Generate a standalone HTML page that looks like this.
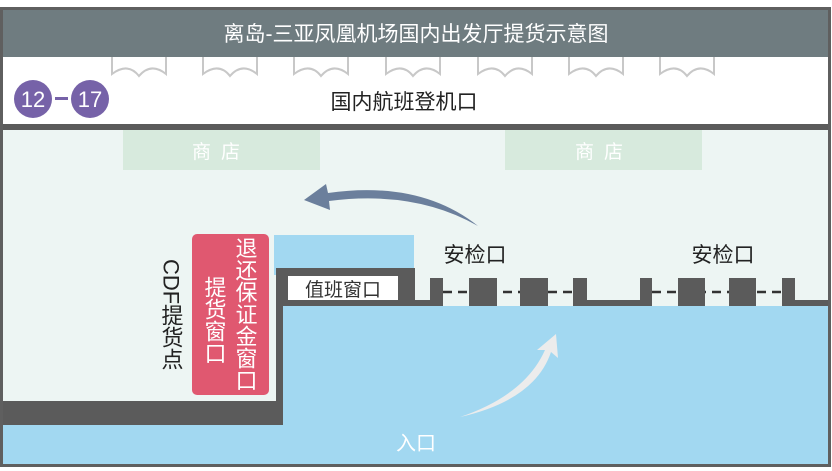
<!DOCTYPE html>
<html><head><meta charset="utf-8"><style>
html,body{margin:0;padding:0;background:#fff;}
svg{display:block;}
text{font-family:"Liberation Sans","Noto Sans CJK SC",sans-serif;}
</style></head><body>
<svg width="832" height="471" viewBox="0 0 832 471" xmlns="http://www.w3.org/2000/svg">
<rect x="0" y="0" width="832" height="471" fill="#fff"/>
<rect x="1.5" y="8.5" width="828" height="457" fill="#edf5f3" stroke="#5f5f5f" stroke-width="3"/>
<rect x="3" y="10" width="825" height="47" fill="#6f7c80"/>
<text x="416" y="41" font-size="21" fill="#fff" text-anchor="middle">离岛-三亚凤凰机场国内出发厅提货示意图</text>
<rect x="3" y="57" width="825" height="67" fill="#fff"/>
<g fill="none" stroke="#c8c8c8" stroke-width="2">
<path d="M112 57 L112 74 Q128 62 139 76 Q151 62 166 74 L166 57"/>
<path d="M203 57 L203 74 Q219 62 230 76 Q242 62 257 74 L257 57"/>
<path d="M294 57 L294 74 Q310 62 321 76 Q333 62 348 74 L348 57"/>
<path d="M386 57 L386 74 Q402 62 413 76 Q425 62 440 74 L440 57"/>
<path d="M478 57 L478 74 Q494 62 505 76 Q517 62 532 74 L532 57"/>
<path d="M569 57 L569 74 Q585 62 596 76 Q608 62 623 74 L623 57"/>
<path d="M660 57 L660 74 Q676 62 687 76 Q699 62 714 74 L714 57"/>
</g>
<circle cx="33" cy="99" r="19" fill="#7662a8"/>
<circle cx="90" cy="99" r="19" fill="#7662a8"/>
<text x="33" y="107" font-size="22" fill="#fff" text-anchor="middle">12</text>
<text x="90" y="107" font-size="22" fill="#fff" text-anchor="middle">17</text>
<rect x="55" y="97" width="13" height="3" fill="#7662a8"/>
<text x="404" y="109" font-size="21" fill="#222" text-anchor="middle">国内航班登机口</text>
<rect x="3" y="124" width="825" height="6" fill="#5b5b5b"/>
<rect x="123" y="130" width="197" height="40" fill="#d7eadd"/>
<rect x="505" y="130" width="197" height="40" fill="#d7eadd"/>
<text x="221" y="158" font-size="19" fill="#fff" text-anchor="middle" letter-spacing="10">商店</text>
<text x="604" y="158" font-size="19" fill="#fff" text-anchor="middle" letter-spacing="10">商店</text>
<rect x="274" y="235" width="140" height="40" fill="#a2d8f1"/>
<rect x="276" y="306" width="552" height="158" fill="#a2d8f1"/>
<rect x="3" y="420" width="825" height="44" fill="#a2d8f1"/>
<rect x="276" y="268" width="139" height="38" fill="#5b5b5b"/>
<rect x="288" y="276" width="110" height="24" fill="#fff"/>
<text x="343" y="296" font-size="19" fill="#333" text-anchor="middle">值班窗口</text>
<rect x="276" y="268" width="7" height="157" fill="#5b5b5b"/>
<rect x="3" y="401" width="280" height="24" fill="#5b5b5b"/>
<rect x="414" y="300" width="16" height="6" fill="#5b5b5b"/>
<line x1="443" y1="292" x2="573" y2="292" stroke="#333" stroke-width="2.5" stroke-dasharray="9,6"/>
<line x1="652" y1="292" x2="782" y2="292" stroke="#333" stroke-width="2.5" stroke-dasharray="9,6"/>
<g fill="#5b5b5b">
<rect x="430" y="278" width="13" height="28"/>
<rect x="469" y="278" width="28" height="28"/>
<rect x="520" y="278" width="28" height="28"/>
<rect x="573" y="278" width="14" height="28"/>
<rect x="587" y="300" width="53" height="6"/>
<rect x="640" y="278" width="12" height="28"/>
<rect x="678" y="278" width="27" height="28"/>
<rect x="729" y="278" width="27" height="28"/>
<rect x="782" y="278" width="13" height="28"/>
<rect x="795" y="300" width="33" height="6"/>
</g>
<text x="475" y="262" font-size="21" fill="#222" text-anchor="middle">安检口</text>
<text x="723" y="262" font-size="21" fill="#222" text-anchor="middle">安检口</text>
<rect x="192" y="234" width="77" height="161" rx="5" fill="#e05870"/>
<text font-size="22" fill="#fff" style="writing-mode:vertical-rl" x="245" y="237">退还保证金窗口</text>
<text font-size="22" fill="#fff" style="writing-mode:vertical-rl" x="214" y="276">提货窗口</text>
<text font-size="22" fill="#222" style="writing-mode:vertical-rl" x="171" y="259">CDF提货点</text>
<path d="M478 226 Q420 180 328 193 L326 184 L304 200 L330 210 L329 201 Q415 190 478 226 Z" fill="#6b7f9c"/>
<path d="M460 417 Q525 395 545 350 L537 350 L556 334 L558 358 L551 352 Q535 400 460 417 Z" fill="#ececec"/>
<text x="416" y="450" font-size="20" fill="#fff" text-anchor="middle">入口</text>
</svg>
</body></html>
